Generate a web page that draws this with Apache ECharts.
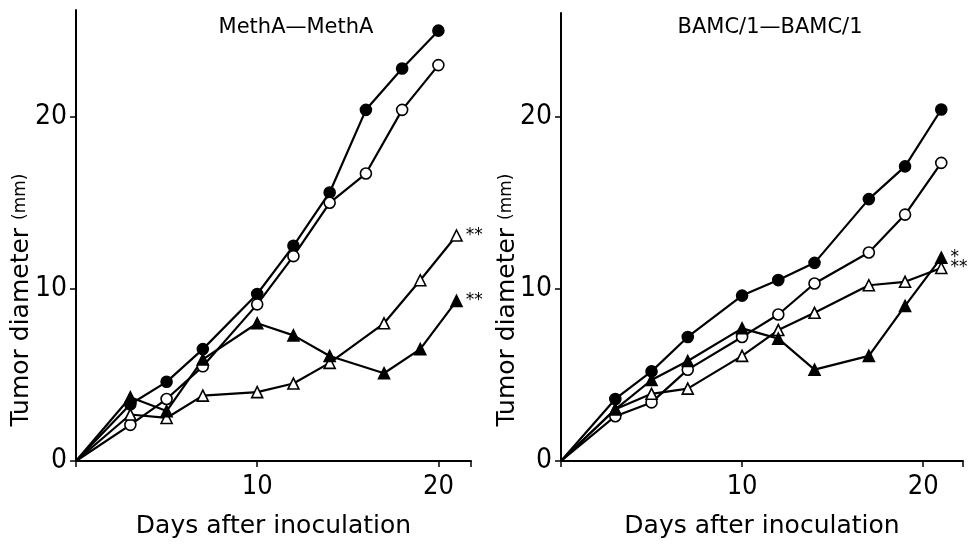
<!DOCTYPE html>
<html>
<head>
<meta charset="utf-8">
<script src="https://cdn.jsdelivr.net/npm/echarts@6/dist/echarts.min.js"></script>
<style>
  html, body { margin: 0; padding: 0; background: #fff; }
  #chart { width: 974px; height: 544px; }
</style>
</head>
<body>
<div id="chart"></div>
<script>
// MethA -> MethA (left panel)
var methaCircleDays = [0, 3, 5, 7, 10, 12, 14, 16, 18, 20];
var methaTriangleDays = [0, 3, 5, 7, 10, 12, 14, 17, 19, 21];
var methaFilledCircle = [0, 3.3, 4.6, 6.5, 9.7, 12.5, 15.6, 20.4, 22.8, 25.0];
var methaOpenCircle = [0, 2.1, 3.6, 5.5, 9.1, 11.9, 15.0, 16.7, 20.4, 23.0];
var methaOpenTriangle = [0, 2.7, 2.5, 3.8, 4.0, 4.5, 5.7, 8.0, 10.5, 13.1];
var methaFilledTriangle = [0, 3.7, 2.9, 5.9, 8.0, 7.3, 6.1, 5.1, 6.5, 9.3];

// BAMC/1 -> BAMC/1 (right panel)
var bamcDays = [0, 3, 5, 7, 10, 12, 14, 17, 19, 21];
var bamcFilledCircle = [0, 3.6, 5.2, 7.2, 9.6, 10.5, 11.5, 15.2, 17.1, 20.4];
var bamcOpenCircle = [0, 2.6, 3.4, 5.3, 7.2, 8.5, 10.3, 12.1, 14.3, 17.3];
var bamcOpenTriangle = [0, 3.0, 3.9, 4.2, 6.1, 7.6, 8.6, 10.2, 10.4, 11.2];
var bamcFilledTriangle = [0, 3.0, 4.7, 5.8, 7.7, 7.1, 5.3, 6.1, 9.0, 11.8];

// significance marks: filled circle, open circle, open triangle, filled triangle
var methaStars = ['', '', '**', '**'];
var bamcStars = ['', '', '**', '*'];

var panelTitles = ['MethA\u2014MethA', 'BAMC/1\u2014BAMC/1'];
var xTicks = [10, 20];
var xName = 'Days after inoculation';

var numFont = '"Liberation Sans Narrow", "DejaVu Sans Condensed", sans-serif';
var textFont = '"DejaVu Sans", sans-serif';

var kinds = {
    fc: { symbol: 'circle', size: 11, fill: '#000' },
    oc: { symbol: 'circle', size: 11, fill: '#fff' },
    ot: { symbol: 'triangle', size: 11, fill: '#fff' },
    ft: { symbol: 'triangle', size: 11, fill: '#000' }
};

function makeSeries(idx, days, vals, kind, star) {
    var k = kinds[kind];
    var data = [];
    for (var i = 0; i < days.length; i++) {
        var item = { value: [days[i], vals[i]] };
        if (i == 0) item.symbolSize = 0; // origin, no marker
        if (i == days.length - 1 && star) {
            item.label = {
                show: true, position: 'right', distance: 3,
                formatter: star, color: '#000', fontSize: 17,
                fontFamily: textFont
            };
        }
        data.push(item);
    }
    return {
        type: 'line',
        xAxisIndex: idx, yAxisIndex: idx,
        data: data,
        symbol: k.symbol,
        symbolSize: k.size,
        showAllSymbol: true,
        animation: false,
        lineStyle: { color: '#000', width: 2.2 },
        itemStyle: { color: k.fill, borderColor: '#000', borderWidth: 1.6 },
        emphasis: { disabled: true }
    };
}

function makeX(idx, max) {
    return {
        type: 'value', gridIndex: idx, min: 0, max: max, interval: 10,
        splitLine: { show: false },
        axisLine: { lineStyle: { color: '#000', width: 2 } },
        axisTick: { length: 6, lineStyle: { color: '#000', width: 1.5 } },
        axisLabel: {
            margin: 12, color: '#000', fontSize: 27, fontFamily: numFont,
            formatter: function (v) { return xTicks.indexOf(v) >= 0 ? String(v) : ''; }
        },
        name: xName, nameLocation: 'middle', nameGap: 53,
        nameTextStyle: { color: '#000', fontSize: 25, fontFamily: textFont }
    };
}

function makeY(idx, max) {
    return {
        type: 'value', gridIndex: idx, min: 0, max: max, interval: 10,
        splitLine: { show: false },
        axisLine: { lineStyle: { color: '#000', width: 2 } },
        axisTick: { length: 6, lineStyle: { color: '#000', width: 1.5 } },
        axisLabel: {
            margin: 9, color: '#000', fontSize: 28, fontFamily: numFont,
            showMaxLabel: false
        }
    };
}

function yName(x) {
    return {
        type: 'text', x: x, y: 300, rotation: Math.PI / 2,
        style: {
            text: '{a|Tumor diameter }{b|(mm)}', fill: '#000', align: 'center', verticalAlign: 'middle',
            rich: {
                a: { fontSize: 25, fontFamily: textFont, fill: '#000' },
                b: { fontSize: 17, fontFamily: textFont, fill: '#000' }
            }
        }
    };
}

var chart = echarts.init(document.getElementById('chart'), null, { renderer: 'canvas' });

chart.setOption({
    backgroundColor: '#fff',
    animation: false,
    title: [
        { text: panelTitles[0], left: 291, top: 12, textAlign: 'center',
          textStyle: { fontSize: 21, fontWeight: 'normal', color: '#000', fontFamily: textFont } },
        { text: panelTitles[1], left: 765, top: 12, textAlign: 'center',
          textStyle: { fontSize: 21, fontWeight: 'normal', color: '#000', fontFamily: textFont } }
    ],
    grid: [
        { left: 76, top: 10, width: 395, height: 462 },
        { left: 561, top: 13, width: 402, height: 459 }
    ],
    xAxis: [makeX(0, 21.8), makeX(1, 22.2)],
    yAxis: [makeY(0, 26.2), makeY(1, 26.0)],
    graphic: [yName(21), yName(507)],
    series: [
        makeSeries(0, methaCircleDays, methaFilledCircle, 'fc', methaStars[0]),
        makeSeries(0, methaCircleDays, methaOpenCircle, 'oc', methaStars[1]),
        makeSeries(0, methaTriangleDays, methaOpenTriangle, 'ot', methaStars[2]),
        makeSeries(0, methaTriangleDays, methaFilledTriangle, 'ft', methaStars[3]),
        makeSeries(1, bamcDays, bamcFilledCircle, 'fc', bamcStars[0]),
        makeSeries(1, bamcDays, bamcOpenCircle, 'oc', bamcStars[1]),
        makeSeries(1, bamcDays, bamcOpenTriangle, 'ot', bamcStars[2]),
        makeSeries(1, bamcDays, bamcFilledTriangle, 'ft', bamcStars[3])
    ]
});
</script>
</body>
</html>
